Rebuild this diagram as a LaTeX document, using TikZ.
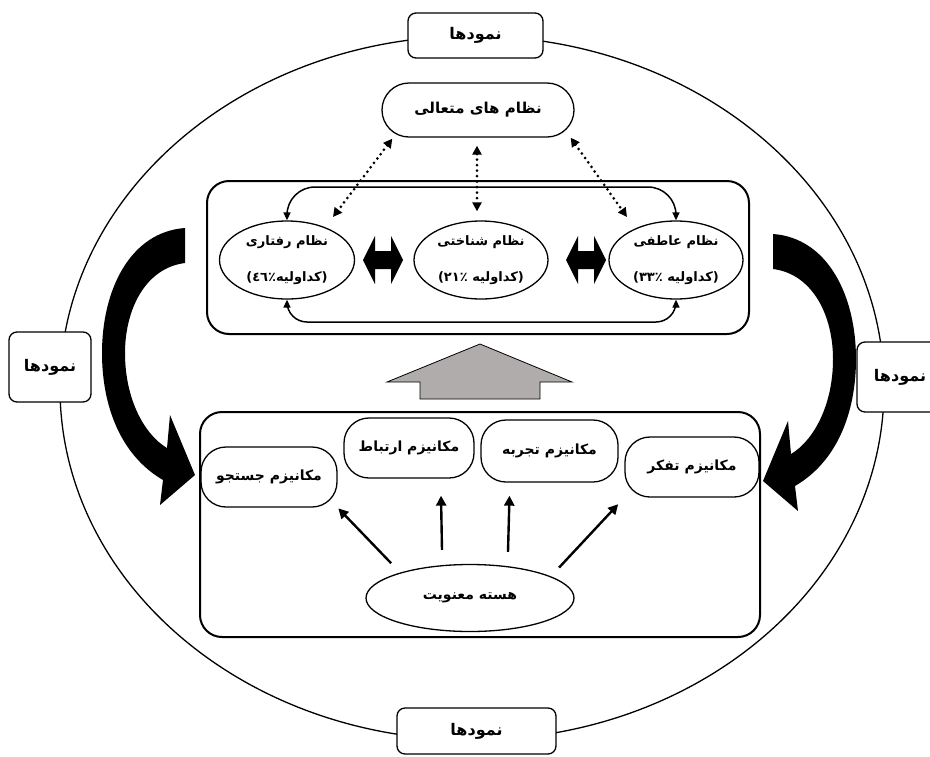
\documentclass[tikz,border=0pt]{standalone}
\usepackage{fontspec}
\usetikzlibrary{shapes.geometric,calc,arrows.meta}
\TeXXeTstate=1
\newfontfamily\farsi[Script=Arabic]{DejaVu Sans}
\newfontfamily\dvsans{DejaVu Sans}
\definecolor{liftgray}{RGB}{176,172,172}
\newcommand\bendarrow{(185,228) -- (185,263) .. controls (145,268) and (125,310) .. (125,353) .. controls (125,400) and (145,435) .. (167,448) -- (170,415) -- (195,475) -- (160,505) -- (163,480) .. controls (120,455) and (102,405) .. (102,353) .. controls (102,290) and (130,232) .. (185,228) -- cycle}
\newcommand\share[2]{{\dvsans(}#1\kern0pt٪#2\kern0pt کداولیه{\dvsans)}}
\tikzset{
  nemud/.style={draw, line width=1.3pt, fill=white, rounded corners=8pt, inner sep=0pt, font=\farsi\bfseries\fontsize{16}{18}\selectfont},
  panel/.style={draw, line width=2pt, rounded corners=22pt, inner sep=0pt},
  sysnode/.style={ellipse, draw, line width=1.3pt, align=center, inner sep=0pt, minimum height=78pt, font=\farsi\bfseries\fontsize{13}{15}\selectfont},
  mech/.style={draw, line width=1.3pt, rounded corners=25pt, inner sep=0pt, minimum height=60pt, font=\farsi\bfseries\fontsize{14}{16}\selectfont},
  push/.style={line width=2.4pt, -{Triangle[length=10pt,width=10pt]}},
  wrap/.style={line width=1.5pt, {Triangle[length=8pt,width=7pt]}-{Triangle[length=8pt,width=7pt]}},
  reach/.style={line width=3pt, line cap=round, dash pattern=on 0pt off 5.5pt, {Triangle[length=9pt,width=9pt]}-{Triangle[length=9pt,width=9pt]}}
}
\begin{document}
\begin{tikzpicture}[x=1pt,y=-1pt]
\useasboundingbox (0,0) rectangle (930,756);
\draw[line width=1.3pt] (472,388) ellipse [x radius=412, y radius=352];
\path
	(475.5,35.5) node[nemud, minimum width=135pt, minimum height=45pt] (ntop) {\beginR نمودها\endR}
	(476.5,731) node[nemud, minimum width=159pt, minimum height=46pt] (nbot) {\beginR نمودها\endR}
	(50,367) node[nemud, minimum width=82pt, minimum height=70pt] (nleft) {\beginR نمودها\endR}
	(900,377) node[nemud, minimum width=86pt, minimum height=70pt] (nright) {\beginR نمودها\endR};
\path
	(478,110) node[draw, line width=1.3pt, rounded corners=27pt, minimum width=192pt, minimum height=54pt, font=\farsi\bfseries\fontsize{15}{17}\selectfont] (trans) {\beginR نظام های متعالی\endR}
	(478,257.5) node[panel, minimum width=542pt, minimum height=153pt] (upper) {}
	(480,524.5) node[panel, minimum width=560pt, minimum height=225pt] (lower) {};
\path
	(287,260) node[sysnode, minimum width=135pt] (beh) {\beginR نظام رفتاری\endR\\[21pt]\share{٤٦}{}}
	(481,260) node[sysnode, minimum width=134pt] (cog) {\beginR نظام شناختی\endR\\[21pt]\share{٢١}{\ }}
	(676,260) node[sysnode, minimum width=134pt] (emo) {\beginR نظام عاطفی\endR\\[21pt]\share{٣٣}{\ }};
\foreach \cx in {383,586}
	\fill[shift={(\cx,260)}] (-20,0) -- (-8,-24) -- (-8,-9) -- (8,-9) -- (8,-24) -- (20,0) -- (8,24) -- (8,9) -- (-8,9) -- (-8,24) -- cycle;
\draw[wrap, rounded corners=28pt] (beh.north) -- (beh.north |- 0,187) -- (emo.north |- 0,187) -- (emo.north);
\draw[wrap, rounded corners=20pt] (beh.south) -- (beh.south |- 0,322) -- (emo.south |- 0,322) -- (emo.south);
\draw[reach] ($(trans.south west)+(11,1)$) -- ($(beh.center)+(46,-43)$);
\draw[reach] ($(trans.south)+(-1,8)$) -- ($(cog.north)+(-4,-9)$);
\draw[reach] ($(trans.south east)+(-4,0)$) -- ($(emo.center)+(-49,-43)$);
\filldraw[fill=liftgray, line width=0.8pt] (480,344) -- (572,382) -- (540,382) -- (540,399) -- (420,399) -- (420,382) -- (387,382) -- cycle;
\fill \bendarrow;
\fill[shift={(958,6)}, xscale=-1] \bendarrow;
\path
	(269,477) node[mech, minimum width=136pt] (search) {\beginR مکانیزم جستجو\endR}
	(409,448) node[mech, minimum width=130pt] (link) {\beginR مکانیزم ارتباط\endR}
	(549.5,451) node[mech, minimum width=137pt, minimum height=62pt] (exper) {\beginR مکانیزم تجربه\endR}
	(692,467) node[mech, minimum width=134pt] (think) {\beginR مکانیزم تفکر\endR}
	(470,598) node[ellipse, draw, line width=1.3pt, minimum width=208pt, minimum height=67pt, inner sep=0pt, font=\farsi\bfseries\fontsize{14}{16}\selectfont] (core) {\beginR هسته معنویت\endR};
\draw[push, shorten <=13pt, shorten >=1pt] (core.160) -- (search.south east);
\draw[push] ($(core.north)+(-28,-14)$) -- ($(link.south)+(32,17)$);
\draw[push] ($(core.north)+(38,-12)$) -- ($(exper.south)+(-40,13)$);
\draw[push, shorten <=12pt, shorten >=9pt] (core.15) -- (think.south west);
\end{tikzpicture}
\end{document}
